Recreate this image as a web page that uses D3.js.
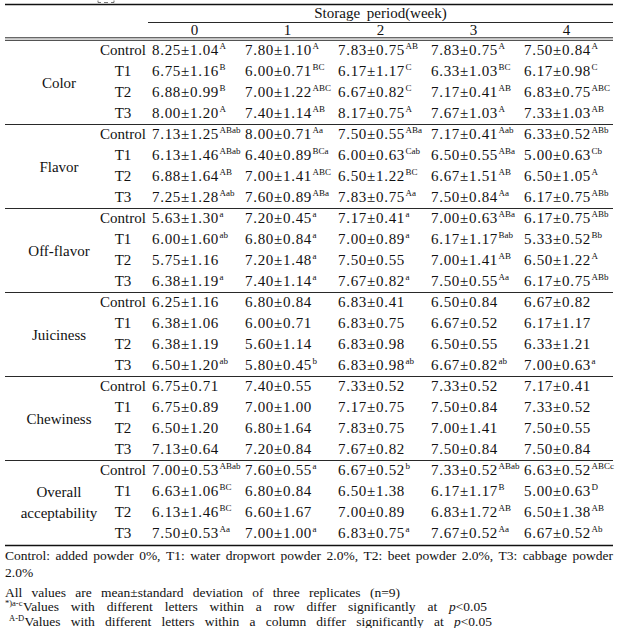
<!DOCTYPE html>
<html><head><meta charset="utf-8">
<script src="https://cdn.jsdelivr.net/npm/d3@7/dist/d3.min.js"></script>
<style>body{margin:0;background:#fff}svg{display:block}text{font-family:"Liberation Serif","Times New Roman",serif;fill:#111}</style>
</head><body>
<script>
// ---- data ----
const weeks = ["0","1","2","3","4"];
const treatments = ["Control","T1","T2","T3"];
const attributes = [["Color"],["Flavor"],["Off-flavor"],["Juiciness"],["Chewiness"],["Overall","acceptability"]];

const colorM   = [[8.25,7.80,7.83,7.83,7.50],[6.75,6.00,6.17,6.33,6.17],[6.88,7.00,6.67,7.17,6.83],[8.00,7.40,8.17,7.67,7.33]];
const colorSD  = [[1.04,1.10,0.75,0.75,0.84],[1.16,0.71,1.17,1.03,0.98],[0.99,1.22,0.82,0.41,0.75],[1.20,1.14,0.75,1.03,1.03]];
const colorSup = [["A","A","AB","A","A"],["B","BC","C","BC","C"],["B","ABC","C","AB","ABC"],["A","AB","A","A","AB"]];

const flavorM   = [[7.13,8.00,7.50,7.17,6.33],[6.13,6.40,6.00,6.50,5.00],[6.88,7.00,6.50,6.67,6.50],[7.25,7.60,7.83,7.50,6.17]];
const flavorSD  = [[1.25,0.71,0.55,0.41,0.52],[1.46,0.89,0.63,0.55,0.63],[1.64,1.41,1.22,1.51,1.05],[1.28,0.89,0.75,0.84,0.75]];
const flavorSup = [["ABab","Aa","ABa","Aab","ABb"],["ABab","BCa","Cab","ABa","Cb"],["AB","ABC","BC","AB","A"],["Aab","ABa","Aa","Aa","ABb"]];

const offM   = [[5.63,7.20,7.17,7.00,6.17],[6.00,6.80,7.00,6.17,5.33],[5.75,7.20,7.50,7.00,6.50],[6.38,7.40,7.67,7.50,6.17]];
const offSD  = [[1.30,0.45,0.41,0.63,0.75],[1.60,0.84,0.89,1.17,0.52],[1.16,1.48,0.55,1.41,1.22],[1.19,1.14,0.82,0.55,0.75]];
const offSup = [["a","a","a","ABa","ABb"],["ab","a","a","Bab","Bb"],["","a","","AB","A"],["a","a","a","Aa","ABb"]];

const juiceM   = [[6.25,6.80,6.83,6.50,6.67],[6.38,6.00,6.83,6.67,6.17],[6.38,5.60,6.83,6.50,6.33],[6.50,5.80,6.83,6.67,7.00]];
const juiceSD  = [[1.16,0.84,0.41,0.84,0.82],[1.06,0.71,0.75,0.52,1.17],[1.19,1.14,0.98,0.55,1.21],[1.20,0.45,0.98,0.82,0.63]];
const juiceSup = [["","","","",""],["","","","",""],["","","","",""],["ab","b","ab","ab","a"]];

const chewM   = [[6.75,7.40,7.33,7.33,7.17],[6.75,7.00,7.17,7.50,7.33],[6.50,6.80,7.83,7.00,7.50],[7.13,7.20,7.67,7.50,7.50]];
const chewSD  = [[0.71,0.55,0.52,0.52,0.41],[0.89,1.00,0.75,0.84,0.52],[1.20,1.64,0.75,1.41,0.55],[0.64,0.84,0.82,0.84,0.84]];
const chewSup = [["","","","",""],["","","","",""],["","","","",""],["","","","",""]];

const overallM   = [[7.00,7.60,6.67,7.33,6.63],[6.63,6.80,6.50,6.17,5.00],[6.13,6.60,7.00,6.83,6.50],[7.50,7.00,6.83,7.67,6.67]];
const overallSD  = [[0.53,0.55,0.52,0.52,0.52],[1.06,0.84,1.38,1.17,0.63],[1.46,1.67,0.89,1.72,1.38],[0.53,1.00,0.75,0.52,0.52]];
const overallSup = [["ABab","a","b","ABab","ABCc"],["BC","","","B","D"],["BC","","","AB","AB"],["Aa","a","a","Aa","Ab"]];

const footnotes = [
  "Control: added powder 0%, T1: water dropwort powder 2.0%, T2: beet powder 2.0%, T3: cabbage powder",
  "2.0%",
  "All values are mean±standard deviation of three replicates (n=9)",
  "Values with different letters within a row differ significantly at p<0.05",
  "Values with different letters within a column differ significantly at p<0.05"
];

const groups = [
  {m:colorM, sd:colorSD, sup:colorSup},
  {m:flavorM, sd:flavorSD, sup:flavorSup},
  {m:offM, sd:offSD, sup:offSup},
  {m:juiceM, sd:juiceSD, sup:juiceSup},
  {m:chewM, sd:chewSD, sup:chewSup},
  {m:overallM, sd:overallSD, sup:overallSup}
];

// ---- layout ----
const W = 622, H = 628;
const fs = 15, supFs = 9;
const svg = d3.select("body").append("svg").attr("width", W).attr("height", H);
svg.append("rect").attr("width", W).attr("height", H).attr("fill", "#fff");

const left = 5, right = 613, colStart = 148;
const headTop = 40.5, rowH = 21, groupH = 84;
const x = d3.scaleBand().domain(weeks).range([colStart, right]);
const gy = d3.scaleBand().domain(d3.range(groups.length)).range([headTop, headTop + groupH * groups.length]);
const ry = d3.scaleBand().domain(treatments).range([0, groupH]);
const fmt = d3.format(".2f");

// cut-off fragment of the caption above the table (bottom of its glyphs only)
svg.append("path").attr("d", "M98,0.5V2.5H101M114,0.5V2.5H111M104,2.5H108")
  .attr("fill", "none").attr("stroke", "#555").attr("stroke-width", 0.8);

// rules
function hline(y, x1, x2, w) {
  svg.append("line").attr("x1", x1).attr("x2", x2).attr("y1", y).attr("y2", y)
    .attr("stroke", "#111").attr("stroke-width", w);
}
hline(4.5, left, right, 1.6);
hline(22.5, colStart, right, 0.9);
hline(37.8, left, right, 0.9);
hline(40.3, left, right, 0.9);

svg.append("text").attr("x", (colStart + right) / 2).attr("y", 17.5).attr("text-anchor", "middle")
  .attr("font-size", fs).attr("word-spacing", 3).text("Storage period(week)");
svg.selectAll("text.wk").data(weeks).join("text").attr("class", "wk")
  .attr("x", d => x(d) + x.bandwidth() / 2).attr("y", 35).attr("text-anchor", "middle")
  .attr("font-size", fs).text(d => d);

groups.forEach((g, gi) => {
  const y0 = gy(gi);
  const lab = attributes[gi];
  if (lab.length === 1) {
    svg.append("text").attr("x", 59).attr("y", y0 + ry("T1") + rowH + 5)
      .attr("text-anchor", "middle").attr("font-size", fs).text(lab[0]);
  } else {
    svg.append("text").attr("x", 59).attr("y", y0 + ry("T1") + 15)
      .attr("text-anchor", "middle").attr("font-size", fs).text(lab[0]);
    svg.append("text").attr("x", 59).attr("y", y0 + ry("T2") + 15)
      .attr("text-anchor", "middle").attr("font-size", fs).text(lab[1]);
  }
  treatments.forEach((t, ti) => {
    const by = y0 + ry(t) + 14.5;
    svg.append("text").attr("x", 123).attr("y", by).attr("text-anchor", "middle")
      .attr("font-size", fs).text(t);
    weeks.forEach((w, wi) => {
      const tx = svg.append("text").attr("x", x(w) + 4).attr("y", by).attr("font-size", fs);
      tx.append("tspan").attr("letter-spacing", 0.7).text(fmt(g.m[ti][wi]) + "±" + fmt(g.sd[ti][wi]));
      const s = g.sup[ti][wi];
      if (s) tx.append("tspan").attr("dx", 0.5).attr("dy", -6).attr("font-size", supFs).text(s);
    });
  });
  if (gi < groups.length - 1) hline(y0 + groupH, left, right, 0.9);
});
const tableBottom = headTop + groupH * groups.length;
hline(tableBottom + 1, left, right, 1.6);

// ---- footnotes (justified word by word) ----
const ffs = 13.5;
function justify(words, x0, x1, y, prefix) {
  const g = svg.append("g");
  let start = x0;
  if (prefix) {
    const p = g.append("text").attr("x", x0).attr("y", y - 5).attr("font-size", 8.5).text(prefix);
    start = x0 + p.node().getComputedTextLength() + 0.5;
  }
  const nodes = words.map(w => {
    const t = g.append("text").attr("y", y).attr("font-size", ffs);
    if (w.startsWith("p<")) {
      t.append("tspan").attr("font-style", "italic").text("p");
      t.append("tspan").text(w.slice(1));
    } else t.text(w);
    return t;
  });
  const widths = nodes.map(n => n.node().getComputedTextLength());
  const total = d3.sum(widths);
  const gap = x1 === null ? 3.4 : (x1 - start - total) / (words.length - 1);
  let cx = start;
  nodes.forEach((n, i) => { n.attr("x", cx); cx += widths[i] + gap; });
}
const fy = tableBottom + 15;
justify(footnotes[0].split(" "), left, right, fy);
justify([footnotes[1]], left, null, fy + 17);
justify(footnotes[2].split(" "), left, 400, fy + 37);
justify(footnotes[3].split(" "), left, 487, fy + 51.5, "*)a-c");
justify(footnotes[4].split(" "), left + 4, 492, fy + 66, "A-D");
</script>
</body></html>
